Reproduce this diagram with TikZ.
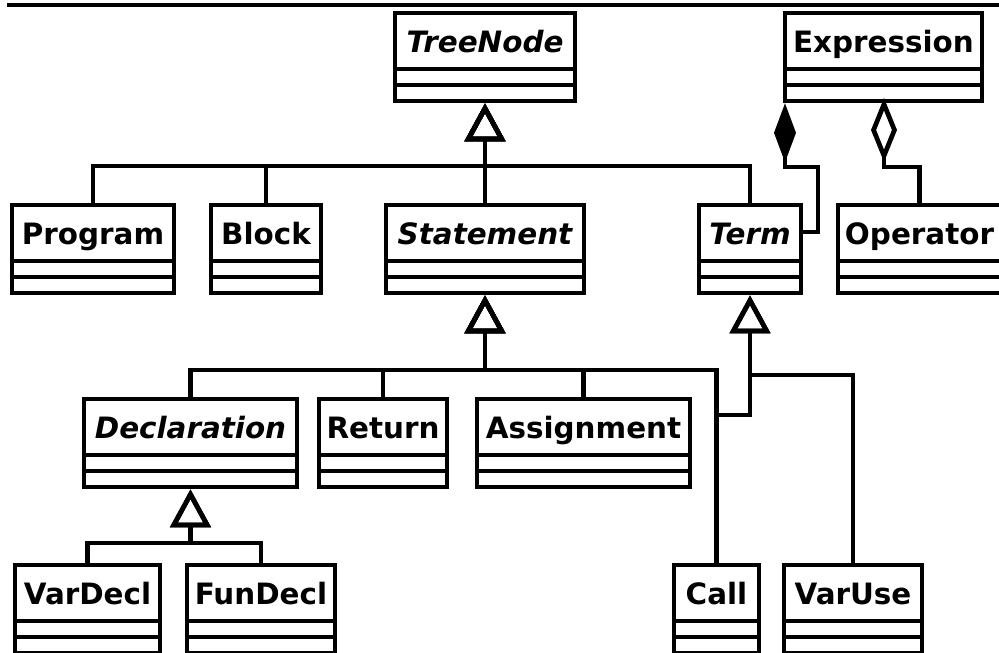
\documentclass[tikz,border=0pt]{standalone}
\usepackage{fontspec}
\setmainfont{DejaVu Sans}
\usetikzlibrary{arrows.meta}

\tikzset{
  classfont/.style={font=\fontsize{29.4}{29.4}\selectfont\bfseries},
  umlbox/.style={draw, line width=4.7pt, outer sep=0pt, inner xsep=0pt,
    inner ysep=0pt, text height=39.5pt, text depth=48.5pt, anchor=north west,
    classfont},
  abstract/.style={font=\fontsize{29.4}{29.4}\selectfont\bfseries\itshape},
  concrete/.style={},
  umlsep/.style={line width=4.7pt},
  frameline/.style={line width=4.7pt},
  gen/.style={line width=4.7pt, -{Triangle[open,length=38pt,width=40pt]},
    shorten >=2.3pt},
  compose/.style={line width=4.7pt, {Diamond[length=59pt,width=22pt]}-,
    shorten <=2.3pt},
  aggregate/.style={line width=4.7pt, {Diamond[open,length=64pt,width=26pt]}-,
    shorten <=-3pt},
}

% class box: name compartment plus two empty compartments
% #1 extra style, #2 node name, #3 left x, #4 right x, #5 top y, #6 class name
\newcommand\umlclass[6]{%
  \node[umlbox,#1,minimum width={(#4)-(#3)}] (#2) at (#3,#5) {#6};
  \draw[umlsep] ([yshift=-56pt]#2.north west) -- ([yshift=-56pt]#2.north east)
                ([yshift=-72pt]#2.north west) -- ([yshift=-72pt]#2.north east);
}

\begin{document}
\begin{tikzpicture}[x=1pt, y=-1pt]
\useasboundingbox (0,0) rectangle (999,653);

% frame edge along the top
\draw[frameline] (7,5) -- (1010,5);

% classes
\umlclass{abstract}{treenode}{395}{575}{13}{TreeNode}
\umlclass{concrete}{expression}{785}{982}{13}{Expression}

\umlclass{concrete}{program}{12}{174}{205}{Program}
\umlclass{concrete}{block}{211}{321}{205}{Block}
\umlclass{abstract}{statement}{386}{584}{205}{Statement}
\umlclass{abstract}{term}{699}{801}{205}{Term}
\umlclass{concrete}{operator}{838}{1001}{205}{Operator}

\umlclass{abstract}{declaration}{84}{297}{399}{Declaration}
\umlclass{concrete}{return}{319}{447}{399}{Return}
\umlclass{concrete}{assignment}{477}{690}{399}{Assignment}

\umlclass{concrete}{vardecl}{15}{160}{565}{VarDecl}
\umlclass{concrete}{fundecl}{187}{335}{565}{FunDecl}
\umlclass{concrete}{call}{674}{759}{565}{Call}
\umlclass{concrete}{varuse}{784}{922}{565}{VarUse}

% bus lines of the inheritance trees
\coordinate (bustree) at (0,166);
\coordinate (busstmt) at (0,370);
\coordinate (busdecl) at (0,543);
\coordinate (busterm) at (0,375);
\coordinate (jointerm) at (0,415);

% inheritance from TreeNode
\foreach \child in {program, block, statement, term}
  \draw[gen] (\child.north) -- (\child.north |- bustree) -| (treenode.south);

% inheritance from Statement
\foreach \child in {declaration, return, assignment, call}
  \draw[gen] (\child.north) -- (\child.north |- busstmt) -| (statement.south);

% inheritance from Declaration
\foreach \child in {vardecl, fundecl}
  \draw[gen] (\child.north) -- (\child.north |- busdecl) -| (declaration.south);

% inheritance from Term
\draw[gen] (call.north) -- (call.north |- jointerm) -| (term.south);
\draw[gen] (varuse.north) -- (varuse.north |- busterm) -| (term.south);

% Expression: composition of Term, aggregation of Operator
\coordinate (compbend) at (818,232);
\draw[compose] (expression.south west) -- ++(0,66) -| (compbend)
  -- (compbend -| term.east);
\draw[aggregate] ([xshift=99pt]expression.south west) -- ++(0,66)
  -| (operator.north);

\end{tikzpicture}
\end{document}
